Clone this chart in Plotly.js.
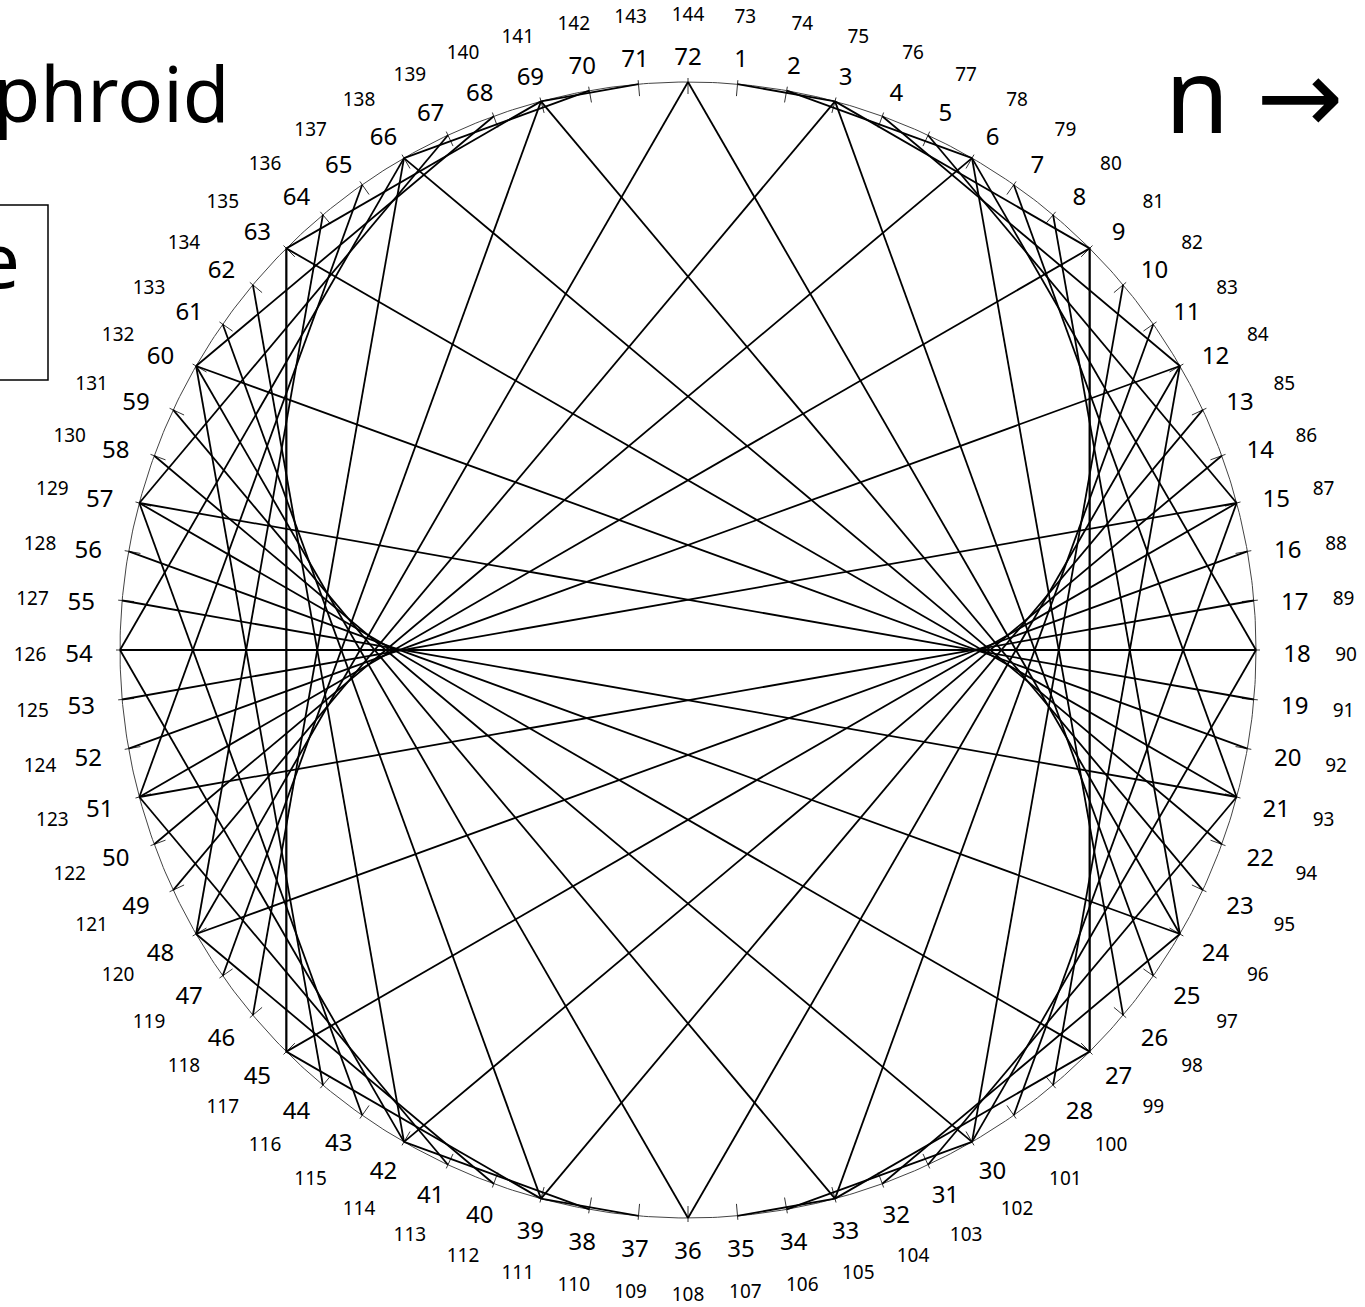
<!DOCTYPE html>
<html>
<head>
<meta charset="utf-8">
<script src="https://cdn.plot.ly/plotly-3.0.1.min.js"></script>
<style>html,body{margin:0;padding:0;background:#fff;overflow:hidden}#chart{width:1365px;height:1307px}</style>
</head>
<body>
<div id="chart"></div>
<script>
// Points on the circle (inner labels) and their second-lap labels (outer)
const pointLabels = [1,2,3,4,5,6,7,8,9,10,11,12,13,14,15,16,17,18,19,20,21,22,23,24,25,26,27,28,29,30,31,32,33,34,35,36,
  37,38,39,40,41,42,43,44,45,46,47,48,49,50,51,52,53,54,55,56,57,58,59,60,61,62,63,64,65,66,67,68,69,70,71,72];
const outerLabels = [73,74,75,76,77,78,79,80,81,82,83,84,85,86,87,88,89,90,91,92,93,94,95,96,97,98,99,100,101,102,103,104,105,106,107,108,
  109,110,111,112,113,114,115,116,117,118,119,120,121,122,123,124,125,126,127,128,129,130,131,132,133,134,135,136,137,138,139,140,141,142,143,144];
// Chords n -> 3n (mod 72)
const chordFrom = [1,2,3,4,5,6,7,8,9,10,11,12,13,14,15,16,17,18,19,20,21,22,23,24,25,26,27,28,29,30,31,32,33,34,35,36,
  37,38,39,40,41,42,43,44,45,46,47,48,49,50,51,52,53,54,55,56,57,58,59,60,61,62,63,64,65,66,67,68,69,70,71,72];
const chordTo = [3,6,9,12,15,18,21,24,27,30,33,36,39,42,45,48,51,54,57,60,63,66,69,72,
  3,6,9,12,15,18,21,24,27,30,33,36,39,42,45,48,51,54,57,60,63,66,69,72,
  3,6,9,12,15,18,21,24,27,30,33,36,39,42,45,48,51,54,57,60,63,66,69,72];
const nPoints = 72;

const W = 1365, H = 1307, CX = 688, CY = 650, R = 568;
const FONT = '"Comic Sans MS", "Noto Sans", "DejaVu Sans", sans-serif';

function ang(k){ return (90 - 360 * k / nPoints) * Math.PI / 180; }

// chords
const cx = [], cy = [];
for (let i = 0; i < chordFrom.length; i++) {
  const a = ang(chordFrom[i]), b = ang(chordTo[i]);
  cx.push(Math.cos(a), Math.cos(b), null);
  cy.push(Math.sin(a), Math.sin(b), null);
}
// tick marks
const tx = [], ty = [];
const tIn = 1 - 12 / R, tOut = 1 + 4 / R;
pointLabels.forEach(k => {
  const a = ang(k);
  tx.push(tIn * Math.cos(a), tOut * Math.cos(a), null);
  ty.push(tIn * Math.sin(a), tOut * Math.sin(a), null);
});
// circle
const ox = [], oy = [];
for (let i = 0; i <= 720; i++) { const a = i / 720 * 2 * Math.PI; ox.push(Math.cos(a)); oy.push(Math.sin(a)); }

// labels
const LOFF = -6 / R;
const ix = [], iy = [], ux = [], uy = [];
pointLabels.forEach((k, i) => {
  const a = ang(k);
  ix.push(609 / R * Math.cos(a)); iy.push(597 / R * Math.sin(a) + LOFF);
  ux.push(658 / R * Math.cos(a)); uy.push(640 / R * Math.sin(a) + LOFF);
});

const traces = [
  {x: ox, y: oy, mode: 'lines', line: {color: '#444', width: 1}, hoverinfo: 'skip'},
  {x: tx, y: ty, mode: 'lines', line: {color: '#333', width: 1}, hoverinfo: 'skip'},
  {x: cx, y: cy, mode: 'lines', line: {color: '#000', width: 1.8}, hoverinfo: 'skip'},
  {x: ix, y: iy, mode: 'text', text: pointLabels.map(String), textposition: 'middle center',
   textfont: {family: FONT, size: 24, color: '#000'}, hoverinfo: 'skip', cliponaxis: false},
  {x: ux, y: uy, mode: 'text', text: outerLabels.map(String), textposition: 'middle center',
   textfont: {family: FONT, size: 19, color: '#000'}, hoverinfo: 'skip', cliponaxis: false}
];

const layout = {
  width: W, height: H,
  margin: {l: 0, r: 0, t: 0, b: 0, pad: 0},
  paper_bgcolor: '#fff', plot_bgcolor: '#fff',
  showlegend: false, hovermode: false,
  xaxis: {range: [-CX / R, (W - CX) / R], visible: false, fixedrange: true},
  yaxis: {range: [-(H - CY) / R, CY / R], visible: false, fixedrange: true},
  shapes: [
    {type: 'rect', xref: 'paper', yref: 'paper', x0: -300 / W, x1: 48 / W, y0: 1 - 380 / H, y1: 1 - 205 / H,
     line: {color: '#000', width: 1.5}, fillcolor: 'rgba(0,0,0,0)'}
  ],
  annotations: [
    {text: 'Nephroid', xref: 'paper', yref: 'paper', x: 232 / W, y: 1 - 92 / H, xanchor: 'right', yanchor: 'middle',
     showarrow: false, font: {family: FONT, size: 76, color: '#000'}},
    {text: 'n →', xref: 'paper', yref: 'paper', x: 1163 / W, y: 1 - 92 / H, xanchor: 'left', yanchor: 'middle',
     showarrow: false, font: {family: FONT, size: 104, color: '#000'}},
    {text: 'Multiple', xref: 'paper', yref: 'paper', x: 22 / W, y: 1 - 258 / H, xanchor: 'right', yanchor: 'middle',
     showarrow: false, font: {family: FONT, size: 76, color: '#000'}}
  ]
};

Plotly.newPlot('chart', traces, layout, {displayModeBar: false, staticPlot: true});
</script>
</body>
</html>
